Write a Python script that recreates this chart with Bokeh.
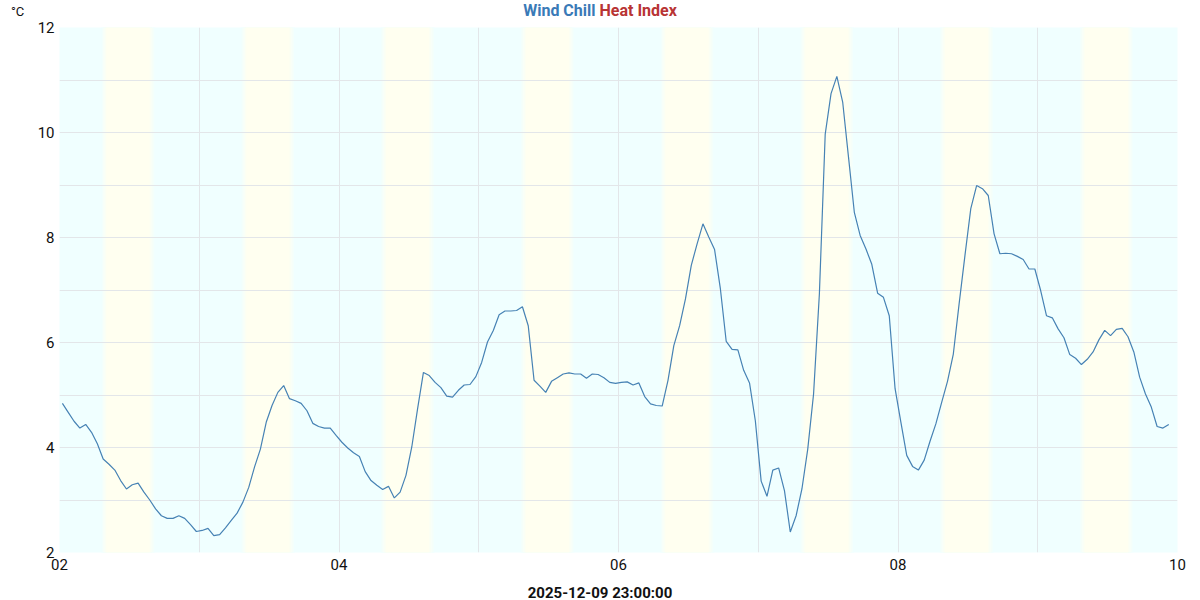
import pandas as pd
from bokeh.plotting import figure
from bokeh.layouts import column
from bokeh.models import FixedTicker, DatetimeTickFormatter, Range1d, Div
from bokeh.embed import file_html
from bokeh.resources import INLINE

# ---------------- data ----------------
first_time = "2025-12-02 00:30"   # hourly readings
wind_chill = [
    4.84, 4.67, 4.50, 4.37, 4.44, 4.29, 4.07, 3.78, 3.68, 3.57,
    3.37, 3.21, 3.29, 3.32, 3.15, 3.00, 2.83, 2.70, 2.65, 2.65,
    2.70, 2.65, 2.53, 2.40, 2.42, 2.46, 2.32, 2.34, 2.47, 2.61,
    2.75, 2.96, 3.24, 3.63, 3.97, 4.48, 4.80, 5.05, 5.18, 4.93,
    4.89, 4.84, 4.70, 4.46, 4.40, 4.37, 4.37, 4.23, 4.10, 3.99,
    3.90, 3.83, 3.54, 3.37, 3.28, 3.20, 3.26, 3.04, 3.15, 3.47,
    4.01, 4.74, 5.43, 5.37, 5.24, 5.14, 4.98, 4.96, 5.09, 5.19,
    5.20, 5.35, 5.62, 6.01, 6.23, 6.53, 6.60, 6.60, 6.61, 6.68,
    6.32, 5.28, 5.17, 5.05, 5.26, 5.33, 5.40, 5.42, 5.40, 5.40,
    5.32, 5.40, 5.39, 5.33, 5.24, 5.22, 5.24, 5.25, 5.19, 5.23,
    4.97, 4.83, 4.80, 4.79, 5.28, 5.94, 6.32, 6.83, 7.47, 7.88,
    8.26, 8.01, 7.77, 7.02, 6.02, 5.87, 5.86, 5.47, 5.23, 4.51,
    3.36, 3.07, 3.57, 3.61, 3.18, 2.39, 2.70, 3.21, 3.97, 5.02,
    6.93, 9.97, 10.74, 11.07, 10.58, 9.53, 8.48, 8.04, 7.78, 7.49,
    6.94, 6.86, 6.51, 5.12, 4.48, 3.85, 3.64, 3.57, 3.76, 4.12,
    4.45, 4.86, 5.26, 5.78, 6.74, 7.66, 8.55, 8.99, 8.93, 8.80,
    8.07, 7.69, 7.70, 7.69, 7.64, 7.58, 7.40, 7.40, 6.99, 6.51,
    6.47, 6.26, 6.09, 5.77, 5.70, 5.58, 5.68, 5.82, 6.05, 6.23,
    6.13, 6.25, 6.27, 6.11, 5.82, 5.34, 5.02, 4.77, 4.40, 4.37,
    4.44,
]
days = ["2025-12-02", "2025-12-03", "2025-12-04", "2025-12-05",
        "2025-12-06", "2025-12-07", "2025-12-08", "2025-12-09"]
sunrise = ["07:36"] * 8
sunset = ["15:57"] * 8

x_start, x_end = "2025-12-02", "2025-12-10"
y_start, y_end = 2, 12
x_major = ["2025-12-02", "2025-12-04", "2025-12-06", "2025-12-08", "2025-12-10"]
x_minor = ["2025-12-03", "2025-12-05", "2025-12-07", "2025-12-09"]
y_major = [2, 4, 6, 8, 10, 12]
y_minor = [3, 5, 7, 9, 11]
title_left, title_right = "Wind Chill", "Heat Index"
x_title = "2025-12-09 23:00:00"
unit = "°C"

# ---------------- header ----------------
header = Div(
    text=(
        '<div style="position:relative;width:1200px;height:20px;'
        'font-family:Roboto;margin:0;padding:0;">'
        f'<span style="position:absolute;left:11px;top:5px;font-size:13px;'
        f'color:#111;line-height:1;">{unit}</span>'
        '<div style="position:absolute;left:0;top:3px;width:1200px;text-align:center;'
        'font-size:16px;font-weight:bold;line-height:1;">'
        f'<span style="color:#3a7ab7;">{title_left}</span> '
        f'<span style="color:#b83434;">{title_right}</span></div></div>'
    ),
    width=1200, height=20, margin=(0, 0, 0, 0),
    styles={"margin": "0", "padding": "0"},
)

footer = Div(
    text=(
        '<div style="position:relative;width:1200px;height:22px;'
        'font-family:Roboto;margin:0;padding:0;">'
        '<div style="position:absolute;left:0;top:8px;width:1200px;text-align:center;'
        'font-size:15px;font-weight:bold;line-height:1;color:#111;">'
        f'{x_title}</div></div>'
    ),
    width=1200, height=22, margin=(0, 0, 0, 0),
    styles={"margin": "0", "padding": "0"},
)

# ---------------- figure ----------------
times = pd.date_range(first_time, periods=len(wind_chill), freq="h")

def ms(s):
    return pd.Timestamp(s).value / 1e6

p = figure(width=1200, height=558, x_axis_type="datetime",
           x_range=Range1d(ms(x_start), ms(x_end)),
           y_range=Range1d(y_start, y_end),
           output_backend="svg", toolbar_location=None,
           min_border_left=59, min_border_right=23,
           min_border_top=7, min_border_bottom=26, margin=(0, 0, 0, 0))
p.outline_line_color = None
p.background_fill_color = "#f0ffff"
p.border_fill_color = "white"

# day / night bands with soft edges (nested quads)
night = (240, 255, 255)
day = (255, 255, 240)
steps = 8
half = pd.Timedelta(minutes=30)
for k in range(steps + 1):
    f = k / steps
    col = "#%02x%02x%02x" % tuple(round(n + (d - n) * f) for n, d in zip(night, day))
    off = pd.Timedelta(minutes=60 * k / steps)
    lefts = [pd.Timestamp(d + " " + s) - half + off for d, s in zip(days, sunrise)]
    rights = [pd.Timestamp(d + " " + s) + half - off for d, s in zip(days, sunset)]
    p.quad(left=lefts, right=rights, bottom=y_start, top=y_end,
           fill_color=col, line_color=None, level="image")

p.line(times, wind_chill, line_color="#4682b4", line_width=1.2)

# axes
p.xaxis.ticker = FixedTicker(ticks=[ms(t) for t in x_major], minor_ticks=[ms(t) for t in x_minor])
p.xaxis.formatter = DatetimeTickFormatter(days="%d", months="%d", years="%d", hours="%d")
p.yaxis.ticker = FixedTicker(ticks=y_major, minor_ticks=y_minor)
for ax in (p.xaxis[0], p.yaxis[0]):
    ax.axis_line_color = None
    ax.major_tick_line_color = None
    ax.minor_tick_line_color = None
    ax.major_tick_out = 0
    ax.minor_tick_out = 0
    ax.major_tick_in = 0
    ax.minor_tick_in = 0
    ax.major_label_text_font = "Roboto"
    ax.major_label_text_font_size = "15px"
    ax.major_label_text_color = "#111111"
p.xaxis.major_label_standoff = 6
p.yaxis.major_label_standoff = 5

for g in (p.xgrid[0], p.ygrid[0]):
    g.grid_line_color = "#e3e6e9"
    g.minor_grid_line_color = "#e3e6e9"
    g.grid_line_width = 1
    g.minor_grid_line_width = 1

layout = column(header, p, footer, spacing=0, margin=(0, 0, 0, 0))
open("out.html", "w").write(file_html(layout, INLINE))
